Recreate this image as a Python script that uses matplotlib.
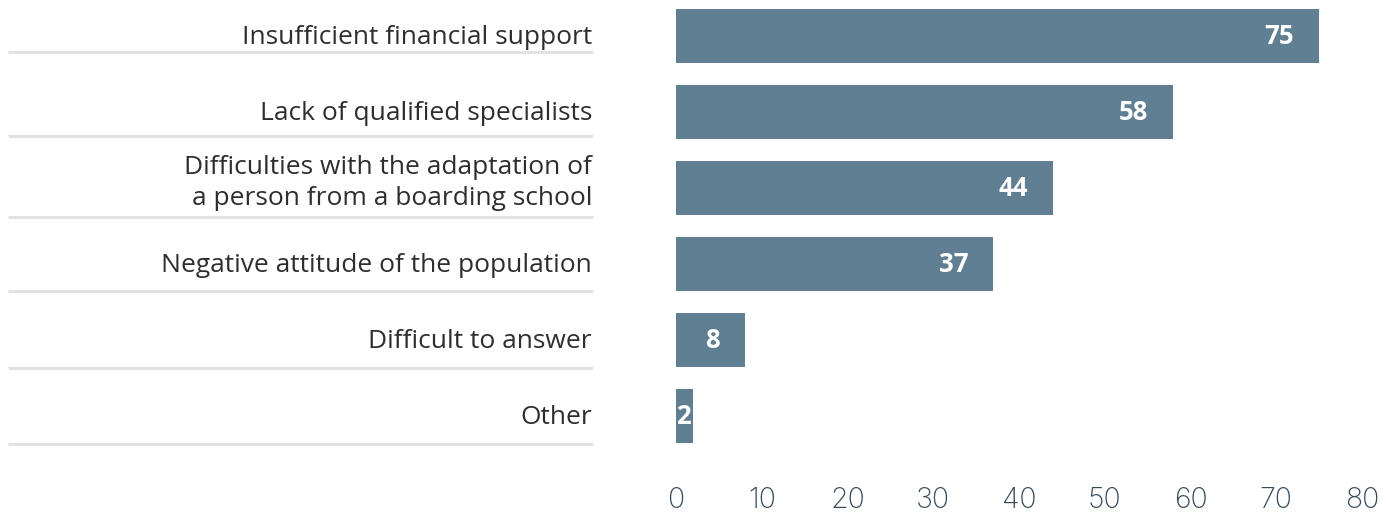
import matplotlib
matplotlib.use("Agg")
import matplotlib.pyplot as plt
import matplotlib.transforms as mtransforms

categories = [
    "Insufficient financial support",
    "Lack of qualified specialists",
    "Difficulties with the adaptation of\na person from a boarding school",
    "Negative attitude of the population",
    "Difficult to answer",
    "Other",
]
values = [75, 58, 44, 37, 8, 2]
xticks = [0, 10, 20, 30, 40, 50, 60, 70, 80]

BAR_COLOR = "#607f93"
TICK_COLOR = "#34495a"
LABEL_COLOR = "#2e2e2e"
SEP_COLOR = "#e2e2e2"

W, H, DPI = 1386, 517, 100
fig = plt.figure(figsize=(W / DPI, H / DPI), dpi=DPI)

ax_left_px, ax_right_px = 676, 1362
ax_top_px, ax_bot_px = 0, 455
ax = fig.add_axes([ax_left_px / W, 1 - ax_bot_px / H,
                   (ax_right_px - ax_left_px) / W, (ax_bot_px - ax_top_px) / H])

step_px = 76.0
first_center_px = 36.0
ypos = list(range(len(categories)))
ax.barh(ypos, values, height=54 / step_px, color=BAR_COLOR, zorder=2)
ax.set_xlim(0, 80)
ax.set_ylim((ax_bot_px - first_center_px) / step_px, -first_center_px / step_px)

for s in ax.spines.values():
    s.set_visible(False)
ax.set_yticks([])
ax.set_xticks(xticks)
ax.set_xticklabels([str(t) for t in xticks], family=["Inter", "DejaVu Sans"],
                   fontweight="light", fontsize=20.5, color=TICK_COLOR)
ax.tick_params(axis="x", length=0, pad=23)

px2pt = 72 / DPI
# value labels
for y, v in zip(ypos, values):
    if v >= 5:
        ax.annotate(str(v), xy=(v, y), xytext=(-25 * px2pt, 0), textcoords="offset points",
                    ha="right", va="center", color="white", fontsize=18.5,
                    fontweight="bold", family=["Open Sans", "DejaVu Sans"], zorder=3)
    else:
        ax.annotate(str(v), xy=(0, y), xytext=(0, 0), textcoords="offset points",
                    ha="left", va="center", color="white", fontsize=18.5,
                    fontweight="bold", family=["Open Sans", "DejaVu Sans"], zorder=3)

# category labels
label_right_px = 592
for y, c in zip(ypos, categories):
    base_dy = 17 if "\n" in c else 8
    ax.annotate(c, xy=(0, y), xytext=((label_right_px - ax_left_px) * px2pt, -base_dy * px2pt),
                textcoords="offset points", ha="right", va="baseline",
                fontsize=19, color=LABEL_COLOR, family=["Open Sans", "DejaVu Sans"],
                linespacing=1.3, annotation_clip=False)

# separator lines under labels
sep_offsets_px = [16, 24, 29, 27, 28, 28]
trans = mtransforms.blended_transform_factory(fig.transFigure, ax.transData)
for y, off in zip(ypos, sep_offsets_px):
    yy = y + off / step_px
    ax.plot([8 / W, 593 / W], [yy, yy], transform=trans, color=SEP_COLOR,
            lw=2.2, clip_on=False, solid_capstyle="butt")

fig.savefig("out.png", dpi=DPI)
